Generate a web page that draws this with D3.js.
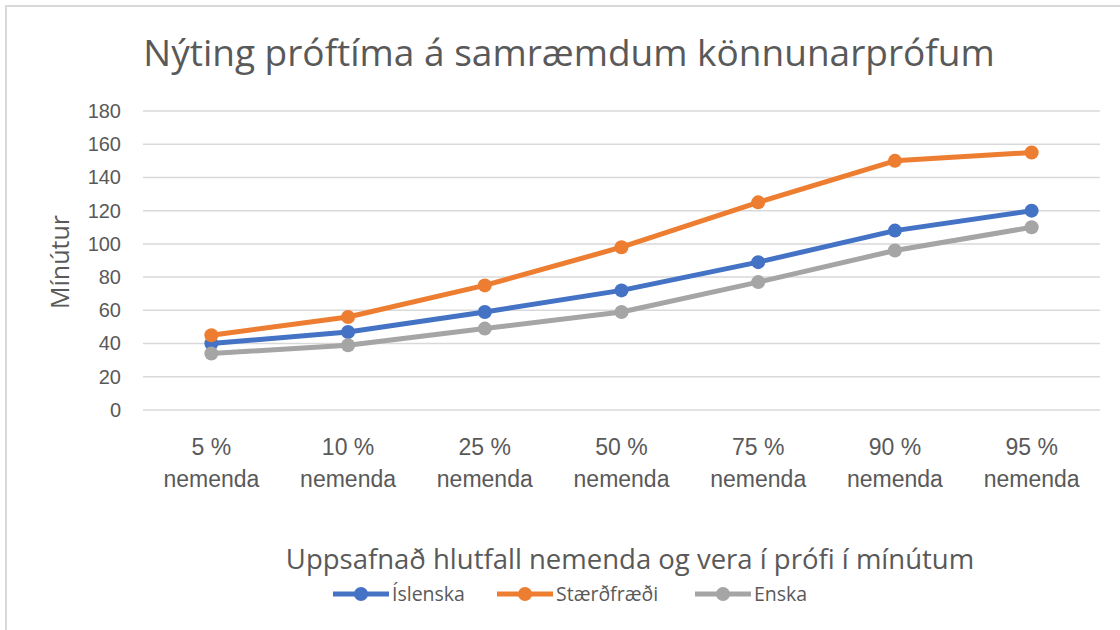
<!DOCTYPE html>
<html>
<head>
<meta charset="utf-8">
<script src="https://cdn.jsdelivr.net/npm/d3@7"></script>
<style>
  body { margin: 0; background: #fff; }
  svg { display: block; font-family: "Open Sans", sans-serif; }
</style>
</head>
<body>
<svg id="chart" width="1120" height="630"></svg>
<script>
const categories = ["5 %", "10 %", "25 %", "50 %", "75 %", "90 %", "95 %"]
const islenska = [40, 47, 59, 72, 89, 108, 120]
const staerdfraedi = [45, 56, 75, 98, 125, 150, 155]
const enska = [34, 39, 49, 59, 77, 96, 110]
const yTicks = [0, 20, 40, 60, 80, 100, 120, 140, 160, 180]

const series = [
  {name: "Íslenska", values: islenska, color: "#4472c4"},
  {name: "Stærðfræði", values: staerdfraedi, color: "#ed7d31"},
  {name: "Enska", values: enska, color: "#a5a5a5"}
]

const svg = d3.select("#chart")
const textColor = "#595959"

// frame (only top and left edges visible in the screenshot)
svg.append("path")
  .attr("d", "M6,630 V6 H1120")
  .attr("fill", "none")
  .attr("stroke", "#d9d9d9")
  .attr("stroke-width", 2)

const x = d3.scaleBand().domain(categories).range([143, 1100])
const y = d3.scaleLinear().domain([0, 180]).range([410, 111])

// gridlines
svg.append("g")
  .selectAll("line")
  .data(yTicks)
  .enter().append("line")
  .attr("x1", 143).attr("x2", 1100)
  .attr("y1", d => y(d)).attr("y2", d => y(d))
  .attr("stroke", "#d9d9d9")
  .attr("stroke-width", 1.5)

// y axis labels
const yAxis = svg.append("g")
  .attr("transform", "translate(121,0)")
  .call(d3.axisLeft(y).tickValues(yTicks).tickSize(0).tickPadding(0))
yAxis.select(".domain").remove()
yAxis.selectAll("text")
  .attr("fill", textColor)
  .style("font-family", "inherit")
  .style("font-size", "20px")

// x axis labels (two lines)
const xAxis = svg.append("g")
  .attr("transform", "translate(0,410)")
  .call(d3.axisBottom(x).tickSize(0).tickFormat(""))
xAxis.select(".domain").remove()
xAxis.selectAll(".tick").each(function (d) {
  const t = d3.select(this).append("text")
    .attr("fill", textColor)
    .attr("text-anchor", "middle")
    .style("font-size", "23px")
  t.append("tspan").attr("x", 0).attr("y", 45).text(d)
  t.append("tspan").attr("x", 0).attr("y", 77).text("nemenda")
})

// lines and markers
const line = d3.line()
  .x((d, i) => x(categories[i]) + x.bandwidth() / 2)
  .y(d => y(d))

const plot = svg.append("g")
series.forEach(s => {
  plot.append("path")
    .datum(s.values)
    .attr("fill", "none")
    .attr("stroke", s.color)
    .attr("stroke-width", 5)
    .attr("stroke-linejoin", "round")
    .attr("d", line)
  plot.selectAll(null)
    .data(s.values)
    .enter().append("circle")
    .attr("cx", (d, i) => x(categories[i]) + x.bandwidth() / 2)
    .attr("cy", d => y(d))
    .attr("r", 7)
    .attr("fill", s.color)
})

// title
svg.append("text")
  .attr("x", 569).attr("y", 66)
  .attr("text-anchor", "middle")
  .attr("fill", textColor)
  .style("font-size", "37px")
  .text("Nýting próftíma á samræmdum könnunarprófum")

// axis titles
svg.append("text")
  .attr("transform", "translate(69,262) rotate(-90)")
  .attr("text-anchor", "middle")
  .attr("fill", textColor)
  .style("font-size", "25px")
  .text("Mínútur")

svg.append("text")
  .attr("x", 630).attr("y", 569)
  .attr("text-anchor", "middle")
  .attr("fill", textColor)
  .style("font-size", "27.5px")
  .text("Uppsafnað hlutfall nemenda og vera í prófi í mínútum")

// legend
const legendX = [333, 497, 695]
const legend = svg.append("g")
  .selectAll("g")
  .data(series)
  .enter().append("g")
  .attr("transform", (d, i) => "translate(" + legendX[i] + ",594)")
legend.append("line")
  .attr("x1", 0).attr("x2", 56)
  .attr("stroke", d => d.color)
  .attr("stroke-width", 5)
legend.append("circle")
  .attr("cx", 28).attr("r", 7)
  .attr("fill", d => d.color)
legend.append("text")
  .attr("x", 59).attr("y", 7)
  .attr("fill", textColor)
  .style("font-size", "19.5px")
  .text(d => d.name)
</script>
</body>
</html>
